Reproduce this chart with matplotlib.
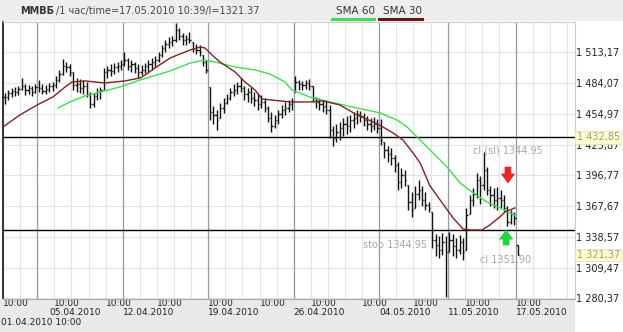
import numpy as np
import matplotlib
matplotlib.use("Agg")
import matplotlib.pyplot as plt
from matplotlib.lines import Line2D
from matplotlib.patches import Rectangle
from matplotlib.transforms import blended_transform_factory

# hourly bars, 5 per trading day, 01.04.2010 10:00 .. 17.05.2010 10:39
bars_per_day = 5
high = [
    1474.8, 1477.6, 1479.5, 1480.5, 1481.4,  # 01.04
    1489.0, 1483.3, 1482.4, 1481.4, 1483.3,  # 02.04
    1487.1, 1483.3, 1482.4, 1484.3, 1485.2,  # 05.04
    1490.9, 1496.6, 1507.0, 1504.1, 1502.2,  # 06.04
    1494.7, 1489.0, 1488.0, 1487.1, 1485.2,  # 07.04
    1475.7, 1474.8, 1479.5, 1480.5, 1498.5,  # 08.04
    1500.3, 1502.2, 1503.2, 1504.1, 1506.0,  # 09.04
    1513.6, 1507.9, 1506.0, 1504.1, 1502.2,  # 12.04
    1501.3, 1503.2, 1506.0, 1507.9, 1509.8,  # 13.04
    1513.6, 1520.2, 1525.0, 1527.8, 1528.7,  # 14.04
    1541.0, 1536.3, 1531.6, 1529.7, 1532.5,  # 15.04
    1523.1, 1521.2, 1520.2, 1510.8, 1506.0,  # 16.04
    1480.5, 1462.5, 1458.7, 1465.3, 1470.1,  # 19.04
    1473.8, 1479.5, 1483.3, 1485.2, 1489.0,  # 20.04
    1481.4, 1479.5, 1480.5, 1475.7, 1474.8,  # 21.04
    1472.9, 1470.1, 1462.5, 1456.8, 1454.0,  # 22.04
    1458.7, 1463.4, 1466.3, 1468.2, 1470.1,  # 23.04
    1490.9, 1487.1, 1486.2, 1487.1, 1488.0,  # 26.04
    1481.4, 1471.0, 1470.1, 1468.2, 1468.2,  # 27.04
    1463.4, 1443.6, 1445.5, 1447.4, 1451.1,  # 28.04
    1453.0, 1454.0, 1456.8, 1458.7, 1457.8,  # 29.04
    1455.9, 1453.0, 1451.1, 1452.1, 1450.2,  # 30.04
    1450.2, 1428.4, 1424.6, 1422.8, 1416.1,  # 04.05
    1409.5, 1403.8, 1401.9, 1387.7, 1381.1,  # 05.05
    1386.8, 1392.5, 1386.8, 1381.1, 1371.6,  # 06.05
    1362.2, 1341.4, 1339.5, 1342.3, 1339.5,  # 07.05
    1343.3, 1341.4, 1337.6, 1340.4, 1337.6,  # 11.05
    1366.0, 1378.3, 1384.9, 1399.1, 1396.3,  # 12.05
    1419.0, 1404.8, 1386.8, 1384.9, 1385.8,  # 13.05
    1383.0, 1378.3, 1367.9, 1364.1, 1362.2,  # 14.05
    1331.0,                                  # 17.05
]
low = [
    1464.4, 1468.2, 1471.0, 1472.0, 1472.9,
    1477.6, 1472.9, 1473.8, 1472.0, 1474.8,
    1475.7, 1473.8, 1473.8, 1475.7, 1476.7,
    1479.5, 1485.2, 1491.8, 1494.7, 1490.9,
    1477.6, 1475.7, 1474.8, 1473.8, 1471.0,
    1460.6, 1461.5, 1468.2, 1469.1, 1477.6,
    1489.0, 1490.9, 1492.8, 1494.7, 1496.6,
    1500.3, 1496.6, 1494.7, 1493.7, 1489.0,
    1491.8, 1493.7, 1494.7, 1496.6, 1499.4,
    1504.1, 1508.9, 1513.6, 1517.4, 1519.3,
    1523.1, 1525.0, 1520.2, 1520.2, 1522.1,
    1513.6, 1511.7, 1509.8, 1500.3, 1493.7,
    1449.2, 1445.5, 1439.8, 1451.1, 1455.9,
    1464.4, 1468.2, 1472.0, 1473.8, 1475.7,
    1468.2, 1466.3, 1465.3, 1462.5, 1458.7,
    1460.6, 1456.8, 1447.4, 1437.9, 1441.7,
    1445.5, 1451.1, 1454.0, 1456.8, 1458.7,
    1475.7, 1477.6, 1477.6, 1478.6, 1477.6,
    1466.3, 1460.6, 1458.7, 1456.8, 1454.9,
    1432.2, 1424.6, 1428.4, 1430.3, 1434.1,
    1436.0, 1437.9, 1441.7, 1445.5, 1447.4,
    1443.6, 1439.8, 1437.9, 1439.8, 1436.9,
    1425.6, 1413.3, 1409.5, 1406.7, 1400.0,
    1383.0, 1384.9, 1386.8, 1364.1, 1357.5,
    1366.0, 1373.5, 1367.9, 1364.1, 1362.2,
    1328.1, 1320.6, 1318.7, 1321.5, 1281.8,
    1324.3, 1320.6, 1318.7, 1322.4, 1316.8,
    1326.2, 1360.3, 1367.9, 1375.4, 1369.8,
    1383.0, 1378.3, 1367.9, 1366.0, 1364.1,
    1366.0, 1362.2, 1348.9, 1350.8, 1349.9,
    1321.4,
]
close = [
    1471.0, 1474.8, 1476.7, 1475.7, 1478.6,
    1481.4, 1477.6, 1479.5, 1475.7, 1480.5,
    1479.5, 1476.7, 1478.6, 1481.4, 1482.4,
    1487.1, 1492.8, 1500.3, 1499.4, 1494.7,
    1482.4, 1483.3, 1479.5, 1481.4, 1473.8,
    1464.4, 1472.0, 1475.7, 1477.6, 1494.7,
    1496.6, 1495.6, 1499.4, 1500.3, 1502.2,
    1506.0, 1500.3, 1502.2, 1498.5, 1494.7,
    1496.6, 1500.3, 1502.2, 1504.1, 1506.0,
    1510.8, 1517.4, 1521.2, 1523.1, 1525.0,
    1534.4, 1528.7, 1525.0, 1525.9, 1525.0,
    1517.4, 1515.5, 1513.6, 1504.1, 1496.6,
    1456.8, 1454.0, 1449.2, 1460.6, 1465.3,
    1470.1, 1475.7, 1477.6, 1481.4, 1479.5,
    1473.8, 1475.7, 1470.1, 1468.2, 1464.4,
    1466.3, 1460.6, 1451.1, 1443.6, 1449.2,
    1454.9, 1458.7, 1460.6, 1464.4, 1467.2,
    1485.2, 1483.3, 1482.4, 1484.3, 1481.4,
    1470.1, 1466.3, 1464.4, 1462.5, 1458.7,
    1439.8, 1432.2, 1437.9, 1441.7, 1445.5,
    1443.6, 1449.2, 1451.1, 1454.9, 1453.0,
    1449.2, 1445.5, 1443.6, 1445.5, 1441.7,
    1430.3, 1420.9, 1417.1, 1413.3, 1406.7,
    1390.6, 1397.2, 1392.5, 1371.6, 1364.1,
    1379.2, 1383.0, 1373.5, 1368.8, 1366.0,
    1335.7, 1331.0, 1326.2, 1333.8, 1324.3,
    1335.7, 1330.0, 1326.2, 1333.8, 1324.3,
    1359.3, 1373.5, 1379.2, 1392.5, 1387.7,
    1401.9, 1383.0, 1378.3, 1373.5, 1375.4,
    1373.5, 1366.0, 1352.7, 1360.3, 1356.5,
    1321.4,
]

# moving averages (trading day, value)
sma30_day = [0, 0.99, 1.99, 2.92, 3.63, 4.04, 4.80, 5.38, 5.96, 7.13, 8.01, 8.31,
             8.89, 9.77, 10.94, 11.52, 11.81, 12.22, 12.69, 13.57, 14.15, 14.74,
             15.15, 16.78, 17.95, 18.71, 19.71, 20.70, 21.64, 22.22, 22.81, 23.39,
             23.98, 24.39, 24.97, 25.56, 26.32, 26.90, 27.31, 28.01, 28.48, 29.06,
             29.36, 29.94]
sma30_val = [1442.6, 1454.0, 1463.4, 1471.0, 1480.5, 1485.2, 1486.2, 1485.2, 1484.3,
             1486.2, 1489.0, 1491.8, 1498.5, 1507.9, 1515.5, 1518.3, 1517.4, 1510.8,
             1504.1, 1494.7, 1485.2, 1477.6, 1469.1, 1466.3, 1466.3, 1467.2, 1463.4,
             1454.0, 1447.4, 1442.6, 1436.9, 1430.3, 1418.0, 1408.6, 1386.8, 1373.5,
             1356.5, 1346.1, 1345.1, 1345.1, 1349.9, 1357.5, 1362.2, 1366.0]
sma60_day = [3.22, 3.92, 4.80, 5.67, 6.84, 8.01, 8.60, 9.77, 10.94, 11.81, 12.40,
             13.57, 14.74, 15.61, 16.49, 16.90, 17.95, 19.12, 20.70, 22.05, 23.04,
             23.63, 24.21, 24.97, 25.56, 25.96, 26.73, 27.49, 28.30, 29.06, 29.65,
             29.94]
sma60_val = [1460.6, 1466.3, 1472.0, 1475.7, 1480.5, 1487.1, 1489.9, 1495.6, 1503.2,
             1506.0, 1504.1, 1499.4, 1496.6, 1492.8, 1485.2, 1477.6, 1471.0, 1466.3,
             1460.6, 1455.9, 1449.2, 1442.6, 1433.2, 1420.9, 1411.4, 1404.8, 1389.6,
             1380.2, 1371.6, 1366.0, 1361.2, 1359.3]

y_ticks = [1280.37, 1309.47, 1338.57, 1367.67, 1396.77, 1425.87, 1454.97, 1484.07, 1513.17]
hour_ticks = [0, 3, 6, 9, 12, 15, 18, 21, 24, 27, 30]
week_starts = [2, 7, 12, 17, 22, 26, 30]
date_labels = ["05.04.2010", "12.04.2010", "19.04.2010", "26.04.2010",
               "04.05.2010", "11.05.2010", "17.05.2010"]
date_pos = [2.69, 7, 12, 17, 22, 26, 30]
level_close = 1432.85
level_stop = 1344.95
last_price = 1321.37


def fmt(v):
    return f"{v:,.2f}".replace(",", " ").replace(".", ",")


W, H = 623, 332
plt.rcParams["font.family"] = ["DejaVu Sans"]
fig = plt.figure(figsize=(W / 100, H / 100), dpi=100, facecolor="white")

# header and bottom bands
fig.patches.append(Rectangle((0, 1 - 21 / H), 1, 21 / H, transform=fig.transFigure,
                             facecolor="#eeeeee", edgecolor="none", zorder=-5))
fig.patches.append(Rectangle((0, 0), 575 / W, 1 - 298.5 / H, transform=fig.transFigure,
                             facecolor="#e9e9e9", edgecolor="none", zorder=-5))

ax = fig.add_axes([3 / W, 1 - 298.5 / H, 572 / W, 276.5 / H])
ax.set_facecolor("white")
ax.set_xlim(0, 33.45)
ax.set_ylim(1280.2, 1542.0)

# grid
for d in range(0, 34):
    ax.axvline(d, color="#e4e4e4", lw=0.8, zorder=1)
for d in week_starts:
    ax.axvline(d, color="#8d9bb0", lw=0.9, zorder=1.2)
for v in y_ticks:
    ax.axhline(v, color="#e4e4e4", lw=0.8, zorder=1)

ax.axhline(level_close, color="black", lw=1.0, zorder=2)
ax.axhline(level_stop, color="black", lw=1.0, zorder=2)

# OHLC bars
h = np.array(high)
l = np.array(low)
c = np.array(close)
n = len(c)
idx = np.arange(n)
t = idx // bars_per_day + (idx % bars_per_day + 0.5) / bars_per_day
o = np.clip(np.r_[c[0], c[:-1]], l, h)
tw = 0.075
ax.vlines(t, l, h, color="#111111", lw=1.0, zorder=3)
ax.hlines(o, t - tw, t, color="#111111", lw=1.0, zorder=3)
ax.hlines(c, t, t + tw, color="#111111", lw=1.0, zorder=3)

ax.plot(sma60_day, sma60_val, color="#3ddc55", lw=1.0, zorder=4)
ax.plot(sma30_day, sma30_val, color="#7b2424", lw=1.0, zorder=4)

# annotations
ax.text(27.49, 1419.9, "cl (sl) 1344.95", fontsize=7, color="#a8a8a8", va="center", zorder=5)
ax.text(21.05, 1331.0, "stop 1344.95", fontsize=7, color="#a8a8a8", va="center", zorder=5)
ax.text(27.9, 1316.8, "cl 1351.90", fontsize=7, color="#a8a8a8", va="center", zorder=2.5)
ax.annotate("", xy=(29.53, 1389.0), xytext=(29.53, 1405.0),
            arrowprops=dict(arrowstyle="simple,head_width=1.3,head_length=0.9,tail_width=0.6",
                            fc="#e8262a", ec="none", mutation_scale=8, shrinkA=0, shrinkB=0),
            zorder=6)
ax.annotate("", xy=(29.42, 1345.5), xytext=(29.42, 1330.5),
            arrowprops=dict(arrowstyle="simple,head_width=1.3,head_length=0.9,tail_width=0.6",
                            fc="#27d23a", ec="none", mutation_scale=8, shrinkA=0, shrinkB=0),
            zorder=6)

# axes styling
for side in ["top", "right"]:
    ax.spines[side].set_color("#cccccc")
    ax.spines[side].set_linewidth(0.8)
ax.spines["left"].set_color("#111111")
ax.spines["left"].set_linewidth(1.2)
ax.spines["bottom"].set_color("#aaaaaa")
ax.spines["bottom"].set_linewidth(0.8)

ax.yaxis.tick_right()
ax.set_yticks(y_ticks)
ax.set_yticklabels([fmt(v) for v in y_ticks])
ax.tick_params(axis="y", length=0, pad=1, labelsize=7, labelcolor="#222222")

ax.set_xticks(hour_ticks)
ax.set_xticklabels(["10:00"] * len(hour_ticks))
for lab in ax.get_xticklabels():
    lab.set_horizontalalignment("left")
ax.tick_params(axis="x", length=0, pad=0.5, labelsize=6.5, labelcolor="#222222")

trans = blended_transform_factory(ax.transData, ax.transAxes)
for pos, lab in zip(date_pos, date_labels):
    ax.text(pos, -(312.5 - 298.5) / 276.5, lab, transform=trans, fontsize=6.5,
            color="#222222", ha="left", va="center", clip_on=False)
fig.text(1 / W, 1 - 322.5 / H, "01.04.2010 10:00", fontsize=6.5, color="#222222", va="center")

# price labels on the right scale
ytrans = blended_transform_factory(ax.transAxes, ax.transData)
for v in [level_close, last_price]:
    ax.text(1.003, v, fmt(v), transform=ytrans, fontsize=7, color="#9a9a9a",
            ha="left", va="center", clip_on=False, zorder=10,
            bbox=dict(boxstyle="square,pad=0.15", fc="#ffffcc", ec="#e6e6b0", lw=0.6))

# header
renderer = fig.canvas.get_renderer()
head = fig.text(20 / W, 1 - 11 / H, "ММВБ", fontsize=7, weight="bold", color="#333333",
                va="center")
x_end = head.get_window_extent(renderer).x1 + 1.5
fig.text(x_end / W, 1 - 11 / H, "/1 час/time=17.05.2010 10:39/l=1321.37", fontsize=7,
         color="#444444", va="center")
fig.text(336 / W, 1 - 11 / H, "SMA 60", fontsize=7.5, color="#333333", va="center")
fig.text(383 / W, 1 - 11 / H, "SMA 30", fontsize=7.5, color="#333333", va="center")
fig.lines.append(Line2D([332 / W, 374 / W], [1 - 18.5 / H] * 2, transform=fig.transFigure,
                        color="#3ddc55", lw=2.2))
fig.lines.append(Line2D([379 / W, 422 / W], [1 - 18.5 / H] * 2, transform=fig.transFigure,
                        color="#6b1414", lw=2.2))

fig.savefig("out.png", dpi=100, facecolor=fig.get_facecolor())
